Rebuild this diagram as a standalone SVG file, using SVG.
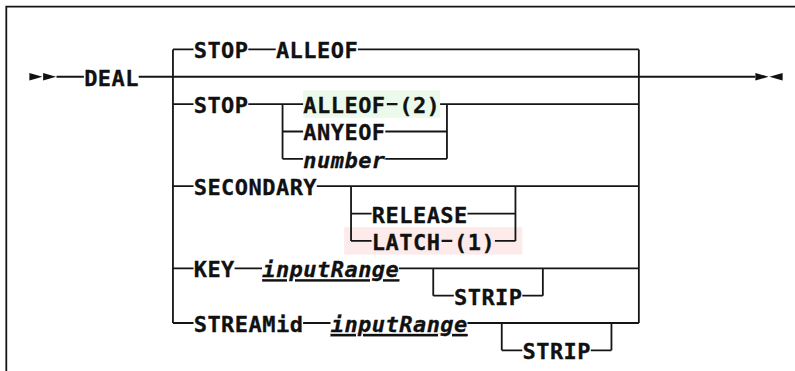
<svg xmlns="http://www.w3.org/2000/svg" width="795" height="371" viewBox="0 0 795 371">
<style>
.t{font-family:"DejaVu Sans Mono","Liberation Mono",monospace;font-weight:bold;font-size:22px;letter-spacing:0.456px;fill:#111;stroke:#111;stroke-width:0.3}
.i{font-style:italic}
.u{text-decoration:underline}
.c{fill:none;stroke:#151515;stroke-width:1.8}
.d{fill:none;stroke:#151515;stroke-width:2.2}
.a{fill:#111}
</style>
<rect width="795" height="371" fill="#fff"/>
<g id="frame"><path class="c" d="M6.3,371V6.7H795" stroke-width="1.8"/></g>
<g id="hl">
<rect x="303.1" y="90.4" width="137" height="27.4" fill="#ebfaeb"/>
<rect x="344.2" y="227.2" width="178.1" height="27.4" fill="#fdebeb"/>
</g>
<g id="connectors">
<path class="c" d="M172.95,49.4V323 M638.85,49.4V323
M172.95,49.4H193.5 M248.3,49.4H275.7 M357.9,49.4H638.85
M56.5,76.76H83.9 M138.7,76.76H755.2
M172.95,104.12H193.5 M248.3,104.12H303.1 M440.1,104.12H638.85
M282.55,104.12V158.84 M446.95,104.12V158.84
M282.55,131.48H303.1 M385.3,131.48H446.95
M282.55,158.84H303.1 M385.3,158.84H446.95
M172.95,186.2H193.5 M316.8,186.2H638.85
M351.05,186.2V240.92 M515.45,186.2V240.92
M351.05,213.56H371.6 M467.5,213.56H515.45
M351.05,240.92H371.6 M494.9,240.92H515.45
M172.95,268.28H193.5 M234.6,268.28H262 M399,268.28H638.85
M433.25,268.28V295.64 M542.85,268.28V295.64
M433.25,295.64H453.8 M522.3,295.64H542.85
M172.95,323H193.5 M303.1,323H330.5 M467.5,323H638.85
M501.75,323V350.36 M611.45,323V350.36
M501.75,350.36H522.3 M590.8,350.36H611.45"/>
<path class="d" d="M386.8,104.12H397.5 M441.6,240.92H452.3"/>
<polygon class="a" points="29.4,72.9 42.4,76.76 29.4,80.6"/>
<polygon class="a" points="43.1,72.9 56.1,76.76 43.1,80.6"/>
<polygon class="a" points="755.4,72.9 768.6,76.76 755.4,80.6"/>
<polygon class="a" points="782.6,72.9 769.4,76.76 782.6,80.6"/>
</g>
<g id="n-deal"><text class="t" x="84.13" y="85.76">DEAL</text></g>
<g id="n-stop1"><text class="t" x="193.73" y="58.4">STOP</text></g>
<g id="n-alleof1"><text class="t" x="275.93" y="58.4">ALLEOF</text></g>
<g id="n-stop2"><text class="t" x="193.73" y="113.12">STOP</text></g>
<g id="n-alleof2"><text class="t" x="303.33" y="113.12">ALLEOF</text><text class="t" x="399.23" y="113.12">(2)</text></g>
<g id="n-anyeof"><text class="t" x="303.33" y="140.48">ANYEOF</text></g>
<g id="n-number"><text class="t i" x="303.33" y="167.84">number</text></g>
<g id="n-secondary"><text class="t" x="193.73" y="195.2">SECONDARY</text></g>
<g id="n-release"><text class="t" x="371.83" y="222.56">RELEASE</text></g>
<g id="n-latch"><text class="t" x="371.83" y="249.92">LATCH</text><text class="t" x="454.03" y="249.92">(1)</text></g>
<g id="n-key"><text class="t" x="193.73" y="277.28">KEY</text></g>
<g id="n-range1"><text class="t i u" x="262.23" y="277.28">inputRange</text></g>
<g id="n-strip1"><text class="t" x="454.03" y="304.64">STRIP</text></g>
<g id="n-streamid"><text class="t" x="193.73" y="332">STREAMid</text></g>
<g id="n-range2"><text class="t i u" x="330.73" y="332">inputRange</text></g>
<g id="n-strip2"><text class="t" x="522.53" y="359.36">STRIP</text></g>
</svg>
